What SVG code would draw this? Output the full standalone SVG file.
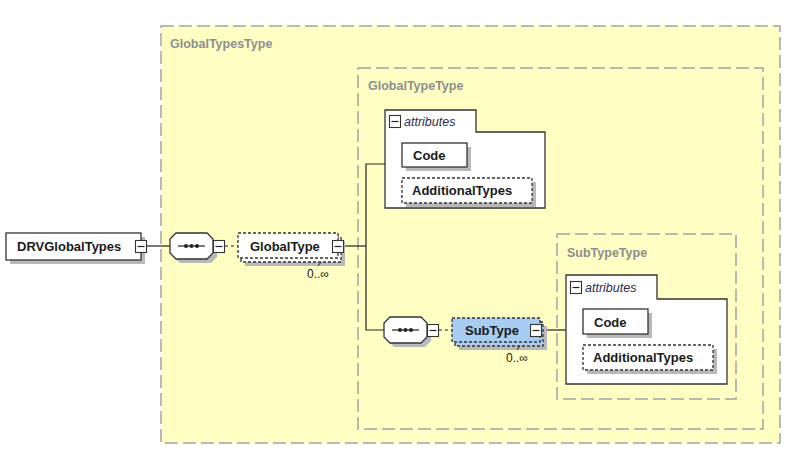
<svg xmlns="http://www.w3.org/2000/svg" width="808" height="468" viewBox="0 0 808 468">
<style>
.cont{fill:#ffffc4;stroke:#a4a4a4;stroke-width:1.5;stroke-dasharray:13 5}
.box{fill:#ffffff;stroke:#333333;stroke-width:1.3}
.dbox{fill:#ffffff;stroke:#333333;stroke-width:1.3;stroke-dasharray:3 2}
.dblue{fill:#a8ccf2;stroke:#333333;stroke-width:1.3;stroke-dasharray:3 2}
.sh{fill:#b9b9b9}
.t{font-family:"Liberation Sans",Arial,sans-serif;font-weight:bold;font-size:13px;fill:#1a1a1a}
.lbl{font-family:"Liberation Sans",Arial,sans-serif;font-weight:bold;font-size:12.5px;fill:#8e8e8e}
.it{font-family:"Liberation Sans",Arial,sans-serif;font-style:italic;font-size:12.5px;fill:#2c2c4c}
.occ{font-family:"Liberation Sans",Arial,sans-serif;font-size:12px;fill:#1a1a1a}
.ln{stroke:#222222;stroke-width:1.2;fill:none}
.dl{stroke:#222222;stroke-width:1.2;fill:none;stroke-dasharray:3 3}
</style>
<defs>
<g id="minus">
<rect x="0.5" y="0.5" width="11" height="12" fill="#ffffff" stroke="#333333" stroke-width="1.1"/>
<line x1="2.5" y1="6.5" x2="9.5" y2="6.5" stroke="#222222" stroke-width="1.2"/>
</g>
<g id="seq">
<polygon points="6,0 37,0 43,6 43,20 37,26 6,26 0,20 0,6" transform="translate(4,4)" fill="#b9b9b9"/>
<polygon points="6,0 37,0 43,6 43,20 37,26 6,26 0,20 0,6" fill="#ffffff" stroke="#333333" stroke-width="1.3"/>
<line x1="8" y1="13" x2="35" y2="13" stroke="#222222" stroke-width="1.2"/>
<circle cx="16" cy="13" r="2" fill="#222222"/>
<circle cx="21.5" cy="13" r="2" fill="#222222"/>
<circle cx="27" cy="13" r="2" fill="#222222"/>
</g>
</defs>

<g id="GlobalTypesType">
<rect class="cont" x="161" y="26" width="619" height="417"/>
<text class="lbl" x="170" y="48">GlobalTypesType</text>
</g>
<g id="GlobalTypeType">
<rect class="cont" x="358" y="68" width="405" height="361"/>
<text class="lbl" x="368" y="90">GlobalTypeType</text>
</g>
<g id="SubTypeType">
<rect class="cont" x="557" y="234" width="179" height="165"/>
<text class="lbl" x="567" y="257">SubTypeType</text>
</g>

<g id="connectors">
<line class="ln" x1="147" y1="246" x2="170" y2="246"/>
<line class="dl" x1="225" y1="246" x2="238" y2="246"/>
<line class="ln" x1="344" y1="246" x2="366" y2="246"/>
<polyline class="ln" points="385,164 366,164 366,330 384,330"/>
<line class="dl" x1="439" y1="330" x2="452" y2="330"/>
<line class="ln" x1="543" y1="330" x2="566" y2="330"/>
</g>

<g id="DRVGlobalTypes">
<rect class="sh" x="10" y="237" width="135" height="27"/>
<rect class="box" x="6" y="233" width="135" height="27"/>
<text class="t" x="17" y="251">DRVGlobalTypes</text>
<use href="#minus" x="135" y="240"/>
</g>

<g id="sequence1">
<use href="#seq" x="170" y="233"/>
<use href="#minus" x="213" y="240"/>
</g>

<g id="GlobalType">
<rect class="sh" x="245" y="241" width="100" height="25"/>
<rect class="dbox" x="241" y="237" width="100" height="25"/>
<rect class="dbox" x="238" y="233" width="100" height="25"/>
<text class="t" x="250" y="251">GlobalType</text>
<use href="#minus" x="332" y="240"/>
<line x1="318" y1="266" x2="321" y2="262" stroke="#222222" stroke-width="1"/>
<text class="occ" x="307" y="278">0..∞</text>
</g>

<g id="attributes1">
<path class="box" d="M385,110 H476 V132 H545 V208 H385 Z"/>
<use href="#minus" x="389" y="115"/>
<text class="it" x="404" y="126">attributes</text>
</g>
<g id="Code1">
<rect class="sh" x="406" y="147" width="65" height="24"/>
<rect class="box" x="402" y="143" width="65" height="24"/>
<text class="t" x="413" y="160">Code</text>
</g>
<g id="AdditionalTypes1">
<rect class="sh" x="406" y="182" width="130" height="25"/>
<rect class="dbox" x="402" y="178" width="130" height="25"/>
<text class="t" x="412" y="195">AdditionalTypes</text>
</g>

<g id="sequence2">
<use href="#seq" x="384" y="317"/>
<use href="#minus" x="427" y="324"/>
</g>

<g id="SubType">
<rect class="sh" x="459" y="326" width="88" height="24"/>
<rect class="dblue" x="455" y="322" width="88" height="24"/>
<rect class="dblue" x="452" y="318" width="88" height="24"/>
<text class="t" x="465" y="335">SubType</text>
<use href="#minus" x="530" y="324"/>
<line x1="517" y1="350" x2="520" y2="346" stroke="#222222" stroke-width="1"/>
<text class="occ" x="506" y="362">0..∞</text>
</g>

<g id="attributes2">
<path class="box" d="M566,275 H657 V299 H727 V384 H566 Z"/>
<use href="#minus" x="570" y="281"/>
<text class="it" x="585" y="292">attributes</text>
</g>
<g id="Code2">
<rect class="sh" x="587" y="313" width="65" height="25"/>
<rect class="box" x="583" y="309" width="65" height="25"/>
<text class="t" x="594" y="327">Code</text>
</g>
<g id="AdditionalTypes2">
<rect class="sh" x="587" y="349" width="130" height="25"/>
<rect class="dbox" x="583" y="345" width="130" height="25"/>
<text class="t" x="593" y="362">AdditionalTypes</text>
</g>
</svg>
